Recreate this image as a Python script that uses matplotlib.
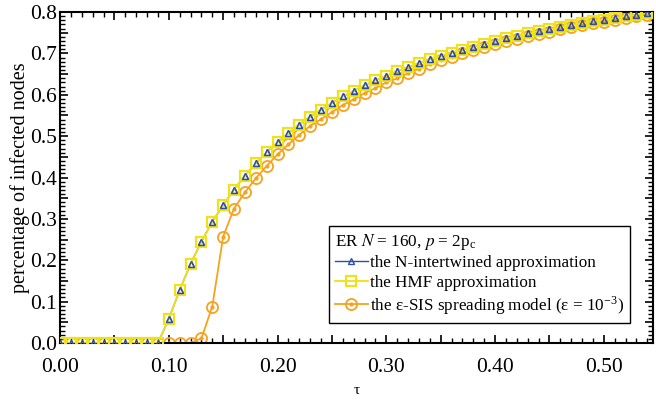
import numpy as np
import matplotlib
matplotlib.use('Agg')
import matplotlib.pyplot as plt
from matplotlib.ticker import MultipleLocator, FuncFormatter
from matplotlib.legend_handler import HandlerTuple

plt.rcParams['font.family'] = 'Liberation Serif'
plt.rcParams['mathtext.fontset'] = 'stix'

#infection rate tau
tau = [0.00, 0.01, 0.02, 0.03, 0.04, 0.05, 0.06, 0.07, 0.08, 0.09,
       0.10, 0.11, 0.12, 0.13, 0.14, 0.15, 0.16, 0.17, 0.18, 0.19,
       0.20, 0.21, 0.22, 0.23, 0.24, 0.25, 0.26, 0.27, 0.28, 0.29,
       0.30, 0.31, 0.32, 0.33, 0.34, 0.35, 0.36, 0.37, 0.38, 0.39,
       0.40, 0.41, 0.42, 0.43, 0.44, 0.45, 0.46, 0.47, 0.48, 0.49,
       0.50, 0.51, 0.52, 0.53, 0.54]

#N-intertwined approximation
y_nimfa = [0, 0, 0, 0, 0, 0, 0, 0, 0, 0,
           0.058, 0.128, 0.191, 0.245, 0.293, 0.333, 0.371, 0.404, 0.434, 0.461,
           0.485, 0.507, 0.528, 0.547, 0.564, 0.580, 0.596, 0.609, 0.623, 0.635,
           0.646, 0.657, 0.667, 0.676, 0.686, 0.694, 0.702, 0.709, 0.716, 0.724,
           0.730, 0.737, 0.743, 0.749, 0.754, 0.759, 0.764, 0.769, 0.774, 0.778,
           0.782, 0.786, 0.790, 0.793, 0.797]

#HMF approximation
y_hmf = [0, 0, 0, 0, 0, 0, 0, 0, 0, 0,
         0.058, 0.128, 0.191, 0.245, 0.293, 0.333, 0.371, 0.404, 0.434, 0.461,
         0.485, 0.507, 0.528, 0.547, 0.564, 0.580, 0.596, 0.609, 0.623, 0.635,
         0.646, 0.657, 0.667, 0.676, 0.686, 0.694, 0.702, 0.709, 0.716, 0.724,
         0.730, 0.737, 0.743, 0.749, 0.754, 0.759, 0.764, 0.769, 0.774, 0.778,
         0.782, 0.786, 0.790, 0.793, 0.797]

#eps-SIS simulation
y_sis = [0, 0, 0, 0, 0, 0, 0, 0, 0, 0,
         0, 0, 0, 0.011, 0.088, 0.257, 0.325, 0.364, 0.398, 0.428,
         0.456, 0.480, 0.503, 0.525, 0.541, 0.558, 0.575, 0.589, 0.604, 0.616,
         0.630, 0.640, 0.652, 0.663, 0.674, 0.683, 0.692, 0.700, 0.708, 0.716,
         0.722, 0.729, 0.736, 0.742, 0.748, 0.753, 0.758, 0.763, 0.768, 0.773,
         0.777, 0.781, 0.786, 0.790, 0.794]

c_blue = '#2d4ea6'
c_yel = '#efe11a'
c_ora = '#f7a21e'

fig = plt.figure(figsize=(6.56, 4.03), dpi=100)
ax = fig.add_axes([0.0915, 0.149, 0.9035, 0.821])

l3, = ax.plot(tau, y_sis, c=c_ora, lw=1.3, marker='o', ms=8, mfc='none', mec=c_ora, mew=1.3, zorder=2)
d3, = ax.plot(tau, y_sis, ls='none', marker='o', ms=2, mfc=c_ora, mec=c_ora, zorder=2)
l1, = ax.plot(tau, y_nimfa, c=c_blue, lw=1.0, marker='^', ms=4.5, mfc='none', mec=c_blue, mew=1.0, zorder=3)
l2, = ax.plot(tau, y_hmf, c=c_yel, lw=1.3, marker='s', ms=7, mfc='none', mec=c_yel, mew=1.6, zorder=3)
l1b, = ax.plot(tau, y_nimfa, ls='none', marker='^', ms=4.5, mfc='none', mec=c_blue, mew=1.0, zorder=4)

ax.set_xlim(0, 0.545)
ax.set_ylim(0, 0.8)

ax.xaxis.set_major_locator(MultipleLocator(0.05))
ax.xaxis.set_minor_locator(MultipleLocator(0.01))
ax.yaxis.set_major_locator(MultipleLocator(0.05))
ax.yaxis.set_minor_locator(MultipleLocator(0.01))

def fmt_x(v, pos):
    if abs(round(v*10) - v*10) < 1e-6:
        return '%.2f' % v
    return ''

def fmt_y(v, pos):
    if abs(round(v*10) - v*10) < 1e-6:
        return '%.1f' % v
    return ''

ax.xaxis.set_major_formatter(FuncFormatter(fmt_x))
ax.yaxis.set_major_formatter(FuncFormatter(fmt_y))

ax.tick_params(which='major', direction='in', length=6, width=1.2, top=True, right=True, labelsize=15.5)
ax.tick_params(which='minor', direction='in', length=3.5, width=1.0, top=True, right=True)
ax.tick_params(axis='x', pad=11)
ax.tick_params(axis='y', pad=2)
for s in ax.spines.values():
    s.set_linewidth(1.5)

ax.set_xlabel('τ', fontsize=11, labelpad=5)
ax.set_ylabel('percentage of infected nodes', fontsize=14.5, labelpad=0)

leg = ax.legend([l1, l2, (l3, d3)],
                ['the N-intertwined approximation', 'the HMF approximation',
                 r'the ε-SIS spreading model (ε = 10$^{\mathregular{-3}}$)'],
                handler_map={tuple: HandlerTuple(ndivide=1)},
                title=r'ER $N$ = 160, $p$ = 2p$_{\mathregular{c}}$',
                loc='upper left', bbox_to_anchor=(0.454, 0.354), borderaxespad=0,
                fontsize=12.3, title_fontsize=12.3, fancybox=False, framealpha=1,
                edgecolor='black', handlelength=1.9, handletextpad=0.15,
                borderpad=0.35, labelspacing=0.2, alignment='left')
leg.get_frame().set_linewidth(1.0)

fig.savefig('out.png', dpi=100)
